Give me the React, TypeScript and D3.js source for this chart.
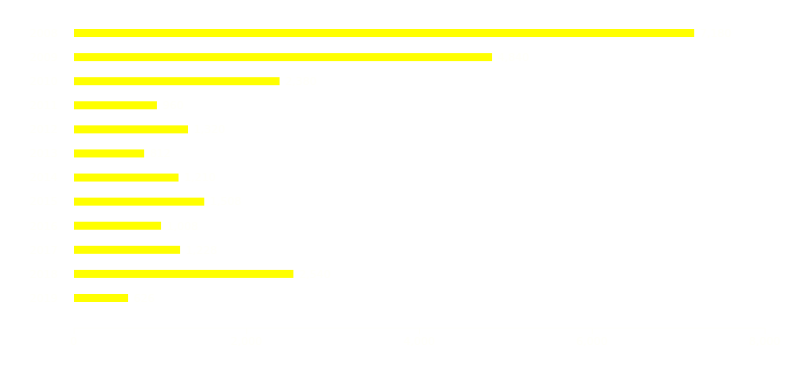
import React from "react";
import * as d3 from "d3";

const categories = ["2008", "2009", "2010", "2011", "2012", "2013", "2014", "2015", "2016", "2017", "2018", "2019"];
const values = [7180, 4840, 2380, 960, 1320, 812, 1210, 1508, 1008, 1228, 2540, 626];
const xTicks = [0, 2000, 4000, 6000, 8000];

const W = 806;
const H = 381;
const TEXT = "#fffffa";

export default function App() {
  const x = d3.scaleLinear().domain([0, 8000]).range([74, 765]);
  const y = d3
    .scaleBand<string>()
    .domain(categories)
    .range([16, 315])
    .paddingInner(0.668)
    .paddingOuter(0.54);
  const fmt = d3.format(",");
  const axisY = 328;

  return (
    <svg
      width={W}
      height={H}
      style={{ position: "absolute", left: 0, top: 0, background: "#ffffff", fontFamily: "'DejaVu Sans', sans-serif" }}
    >
      <rect x={0} y={0} width={W} height={H} fill="#ffffff" />
      {categories.map((c, i) => (
        <g key={c}>
          <rect x={x(0)} y={y(c)!} width={x(values[i]) - x(0)} height={y.bandwidth()} fill="#ffff00" />
          <text x={58} y={y(c)! + y.bandwidth() / 2} dy="0.35em" textAnchor="end" fontSize={11} fill={TEXT}>
            {c}
          </text>
          <text x={x(values[i]) + 6} y={y(c)! + y.bandwidth() / 2} dy="0.35em" fontSize={11} fill={TEXT}>
            {fmt(values[i])}
          </text>
        </g>
      ))}
      <line x1={x(0)} x2={x(8000)} y1={axisY} y2={axisY} stroke={TEXT} />
      {xTicks.map((t) => (
        <g key={t} transform={`translate(${x(t)},${axisY})`}>
          <line y2={6} stroke={TEXT} />
          <text y={9} dy="0.71em" textAnchor="middle" fontSize={11} fill={TEXT}>
            {fmt(t)}
          </text>
        </g>
      ))}
    </svg>
  );
}
